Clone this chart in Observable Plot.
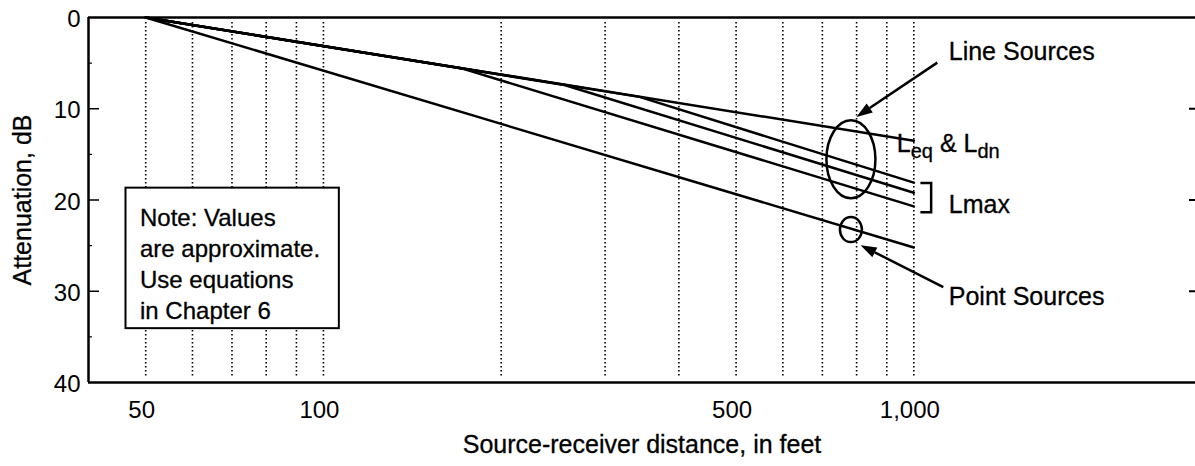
<!DOCTYPE html>
<html>
<head>
<meta charset="utf-8">
<script src="https://cdn.jsdelivr.net/npm/d3@7"></script>
<script src="https://cdn.jsdelivr.net/npm/@observablehq/plot@0.6"></script>
<style>
  html, body { margin: 0; padding: 0; background: #fff; }
</style>
</head>
<body>
<div id="chart"></div>
<script>
const FONT = '"Liberation Sans", Arial, Helvetica, sans-serif';

// Axis ticks
const xTickLabels = [50, 100, 500, 1000];
const xGridLines = [50, 60, 70, 80, 90, 100, 200, 300, 400, 500, 600, 700, 800, 900, 1000];
const yTickLabels = [0, 10, 20, 30, 40];
const yMajorTicks = [10, 20, 30];
const yMinorTicks = [5, 15, 25, 35];

// Series (distance in feet, attenuation in dB)
const leqDistance = [50, 1000];
const leqAtten = [0, 13.5];
const lmax1Distance = [50, 172, 1000];
const lmax1Atten = [0, 5.6, 20.7];
const lmax2Distance = [50, 256, 1000];
const lmax2Atten = [0, 7.4, 19.2];
const lmax3Distance = [50, 343, 1000];
const lmax3Atten = [0, 8.7, 18.1];
const pointDistance = [50, 1000];
const pointAtten = [0, 25.2];

// Annotation labels
const labelText = ["Line Sources", "Lmax", "Point Sources"];
const labelAtten = [3.8, 20.6, 30.6];
const labelDistance = 1146;
const noteLines = ["Note: Values", "are approximate.", "Use equations", "in Chapter 6"];

// Build table
const rows = [];
function addSeries(name, xs, ys) { xs.forEach((x, i) => rows.push({series: name, distance: x, atten: ys[i]})); }
addSeries("Leq & Ldn", leqDistance, leqAtten);
addSeries("Lmax 1", lmax1Distance, lmax1Atten);
addSeries("Lmax 2", lmax2Distance, lmax2Atten);
addSeries("Lmax 3", lmax3Distance, lmax3Atten);
addSeries("Point Sources", pointDistance, pointAtten);

const labels = labelText.map((t, i) => ({text: t, distance: labelDistance, atten: labelAtten[i]}));

const W = 1195 - 88;

function annotations(index, scales) {
  const x = scales.x, y = scales.y;
  const g = d3.create("svg:g").attr("fill", "none").attr("stroke", "black").attr("stroke-width", 2.5);
  // ellipse around line sources
  g.append("ellipse").attr("cx", x(784)).attr("cy", y(15.6)).attr("rx", 24.5).attr("ry", 39);
  // small circle around point source
  g.append("ellipse").attr("cx", x(784)).attr("cy", y(23.3)).attr("rx", 11).attr("ry", 12.5);
  // arrows
  const arrows = [
    {from: [1098, 5.0], to: [801, 10.95]},
    {from: [1124, 29.6], to: [814, 25.0]}
  ];
  for (const a of arrows) {
    const x1 = x(a.from[0]), y1 = y(a.from[1]), x2 = x(a.to[0]), y2 = y(a.to[1]);
    const dx = x2 - x1, dy = y2 - y1, L = Math.hypot(dx, dy);
    const ux = dx / L, uy = dy / L;
    const hl = 16, hw = 5.5;
    const bx = x2 - ux * hl, by = y2 - uy * hl;
    g.append("line").attr("x1", x1).attr("y1", y1).attr("x2", bx).attr("y2", by).attr("stroke-width", 2.5);
    g.append("path")
      .attr("d", `M${x2},${y2}L${bx - uy * hw},${by + ux * hw}L${bx + uy * hw},${by - ux * hw}Z`)
      .attr("fill", "black").attr("stroke", "none");
  }
  // bracket for Lmax
  const bx1 = x(1028), bx2 = x(1072), by1 = y(18.2), by2 = y(21.4);
  g.append("path").attr("d", `M${bx1},${by1}H${bx2}V${by2}H${bx1}`);
  // Leq & Ldn label with subscripts
  const t = g.append("text").attr("x", x(labelDistance)).attr("y", y(14.8))
    .attr("fill", "black").attr("stroke", "black").attr("stroke-width", 0.3)
    .attr("font-family", FONT).attr("font-size", 25);
  t.append("tspan").text("L");
  t.append("tspan").attr("font-size", 20).attr("dy", 6).text("eq");
  t.append("tspan").attr("dy", -6).text(" & L");
  t.append("tspan").attr("font-size", 20).attr("dy", 6).text("dn");
  return g.node();
}

const chart = Plot.plot({
  width: 1195,
  height: 466,
  marginLeft: 88,
  marginRight: 0,
  marginTop: 17,
  marginBottom: 84,
  style: {fontFamily: FONT, fontSize: "24px", background: "white", color: "black"},
  x: {type: "log", domain: [40, 3000], label: null},
  y: {domain: [0, 40], reverse: true, label: null},
  marks: [
    Plot.ruleX(xGridLines, {stroke: "black", strokeWidth: 1.6, strokeDasharray: "1.5,2.5", insetTop: 5, insetBottom: 4}),
    Plot.rect([{x1: 46.3, x2: 106.4, y1: 18.7, y2: 34.1}], {x1: "x1", x2: "x2", y1: "y1", y2: "y2", fill: "white", stroke: "black", strokeWidth: 2}),
    Plot.text([noteLines.join("\n")], {x: 48.9, y: 20.4, text: d => d, textAnchor: "start", lineAnchor: "top", lineHeight: 1.29, fontSize: 24, fill: "black", stroke: "black", strokeWidth: 0.3}),
    Plot.line(rows, {x: "distance", y: "atten", z: "series", stroke: "black", strokeWidth: 2.5}),
    Plot.ruleY([0, 40], {stroke: "black", strokeWidth: 2.5}),
    Plot.ruleX([40], {stroke: "black", strokeWidth: 2.5}),
    Plot.tickY(yMajorTicks, {y: d => d, insetRight: W - 11, stroke: "black", strokeWidth: 1.5}),
    Plot.tickY(yMinorTicks, {y: d => d, insetRight: W - 4, stroke: "black", strokeWidth: 1.2}),
    Plot.tickY(yMajorTicks, {y: d => d, insetLeft: W - 6, stroke: "black", strokeWidth: 2}),
    Plot.axisY({ticks: yTickLabels, tickSize: 0, tickPadding: 8, fontSize: 24, dy: 2, label: null, stroke: "black", strokeWidth: 0.3}),
    Plot.axisX({ticks: xTickLabels, tickFormat: d3.format(","), tickSize: 0, tickPadding: 18, fontSize: 24, dx: -4, label: null, stroke: "black", strokeWidth: 0.3}),
    Plot.text(["Attenuation, dB"], {frameAnchor: "left", textAnchor: "middle", rotate: -90, dx: -66, fontSize: 25, fill: "black", stroke: "black", strokeWidth: 0.3}),
    Plot.text(["Source-receiver distance, in feet"], {frameAnchor: "bottom", dy: 70, fontSize: 25, fill: "black", stroke: "black", strokeWidth: 0.3}),
    Plot.text(labels, {x: "distance", y: "atten", text: "text", textAnchor: "start", fontSize: 25, fill: "black", stroke: "black", strokeWidth: 0.3}),
    annotations
  ]
});

document.getElementById("chart").appendChild(chart);
</script>
</body>
</html>
